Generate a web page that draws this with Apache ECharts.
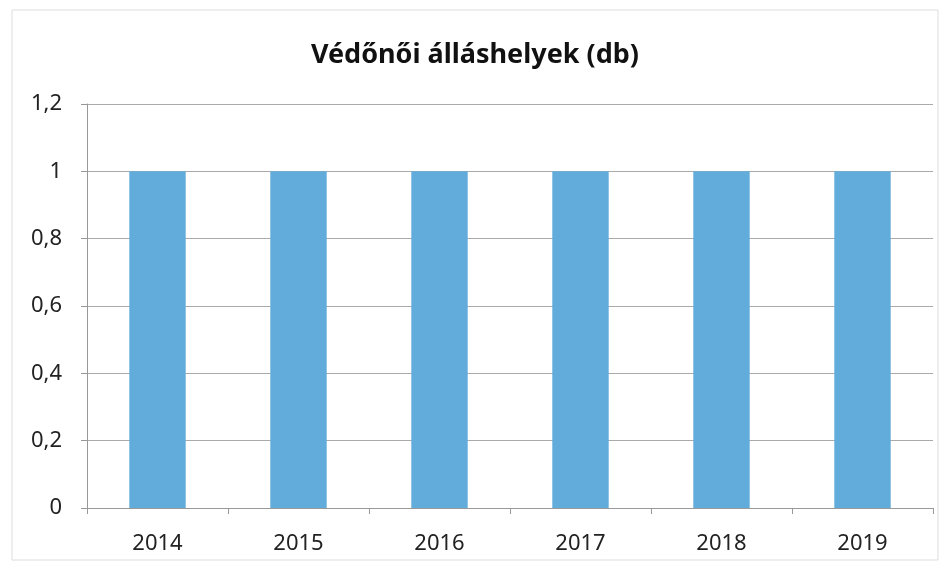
<!DOCTYPE html>
<html><head><meta charset="utf-8">
<script src="https://cdn.jsdelivr.net/npm/echarts@6/dist/echarts.min.js"></script>
<style>html,body{margin:0;padding:0;background:#fff}#c{width:950px;height:566px}</style>
</head><body><div id="c"></div>
<script>
const categories = ['2014','2015','2016','2017','2018','2019'];
const values = [1,1,1,1,1,1];
const titleText = 'Védőnői álláshelyek (db)';
const chart = echarts.init(document.getElementById('c'));
chart.setOption({
  backgroundColor:'#fff',
  animation:false,
  title:{text:titleText,left:'center',top:37,textStyle:{fontFamily:'Noto Sans',fontSize:27,fontWeight:'bold',color:'#111'}},
  grid:{left:87,right:17,top:104,bottom:58},
  graphic:[{type:'rect',shape:{x:12,y:10,width:926,height:550},style:{fill:'none',stroke:'#ddd',lineWidth:1},silent:true,z:-1}],
  xAxis:{type:'category',data:categories,
    axisLine:{lineStyle:{color:'#999'}},
    axisTick:{show:true,length:6,lineStyle:{color:'#999'}},
    axisLabel:{fontFamily:'Noto Sans',fontSize:22,color:'#222',margin:25}},
  yAxis:{type:'value',min:0,max:1.2,interval:0.2,
    axisLine:{show:true,lineStyle:{color:'#999'}},
    axisTick:{show:true,length:6,inside:false,lineStyle:{color:'#999'}},
    splitLine:{lineStyle:{color:'#aaa'}},
    axisLabel:{fontFamily:'Noto Sans',fontSize:22,color:'#222',margin:25,
      formatter:v=>String(Math.round(v*10)/10).replace('.',',')}},
  series:[{type:'bar',data:values,barCategoryGap:'60%',itemStyle:{color:'#62acdc'}}]
});
</script></body></html>
